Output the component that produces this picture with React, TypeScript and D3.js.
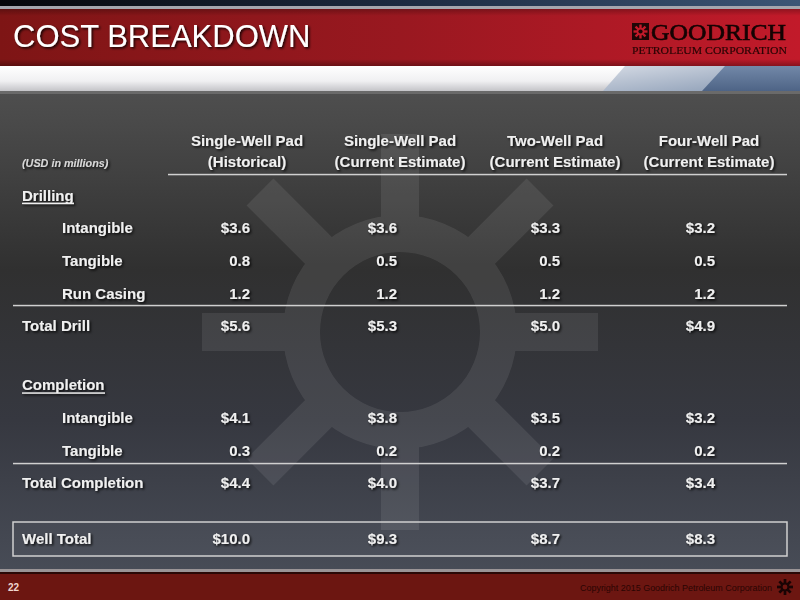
import React from "react";
import * as d3 from "d3";

// ---------- data ----------
const columnTitles = ["Single-Well Pad", "Single-Well Pad", "Two-Well Pad", "Four-Well Pad"];
const columnSubtitles = ["(Historical)", "(Current Estimate)", "(Current Estimate)", "(Current Estimate)"];
const unitNote = "(USD in millions)";

const drillingIntangible = [3.6, 3.6, 3.3, 3.2];
const drillingTangible = [0.8, 0.5, 0.5, 0.5];
const runCasing = [1.2, 1.2, 1.2, 1.2];
const totalDrill = [5.6, 5.3, 5.0, 4.9];
const completionIntangible = [4.1, 3.8, 3.5, 3.2];
const completionTangible = [0.3, 0.2, 0.2, 0.2];
const totalCompletion = [4.4, 4.0, 3.7, 3.4];
const wellTotal = [10.0, 9.3, 8.7, 8.3];

type Row = { label: string; slot: number; kind: "section" | "item" | "total"; values?: number[]; dollar?: boolean };
const rows: Row[] = [
  { label: "Drilling", slot: 0, kind: "section" },
  { label: "Intangible", slot: 1, kind: "item", values: drillingIntangible, dollar: true },
  { label: "Tangible", slot: 2, kind: "item", values: drillingTangible },
  { label: "Run Casing", slot: 3, kind: "item", values: runCasing },
  { label: "Total Drill", slot: 4, kind: "total", values: totalDrill, dollar: true },
  { label: "Completion", slot: 5.8, kind: "section" },
  { label: "Intangible", slot: 6.8, kind: "item", values: completionIntangible, dollar: true },
  { label: "Tangible", slot: 7.8, kind: "item", values: completionTangible },
  { label: "Total Completion", slot: 8.8, kind: "total", values: totalCompletion, dollar: true },
  { label: "Well Total", slot: 10.5, kind: "total", values: wellTotal, dollar: true },
];

const FONT = "'Liberation Sans', Arial, sans-serif";

export default function App() {
  const W = 800, H = 600;
  const colIdx = d3.range(columnTitles.length);
  const numRight = d3.scaleOrdinal<number, number>().domain(colIdx).range([250, 397, 560, 715]);
  const headCenter = d3.scaleOrdinal<number, number>().domain(colIdx).range([247, 400, 555, 709]);
  const y = d3.scaleLinear().domain([0, 1]).range([200.5, 233.2]); // baseline per slot
  const fmt = d3.format(".1f");

  // watermark sun
  const cx = 400, cy = 332, rIn = 80, rOut = 117, spokeLen = 198, spokeW = 38;
  const ringPath = d3.arc()({ innerRadius: rIn, outerRadius: rOut, startAngle: 0, endAngle: 2 * Math.PI }) as string;
  const spokeAngles = d3.range(8).map((i) => i * 45);

  const smallSun = (x: number, yy: number, s: number, color: string, hole: string) => (
    <g transform={`translate(${x},${yy})`}>
      {spokeAngles.map((a) => (
        <rect key={a} x={-s * 0.17} y={-s} width={s * 0.34} height={s * 0.6} fill={color} transform={`rotate(${a})`} />
      ))}
      <circle r={s * 0.55} fill={color} />
      <circle r={s * 0.3} fill={hole} />
    </g>
  );

  const underlineWidth = (label: string) => (label === "Drilling" ? 52 : 83);

  return (
    <div style={{ position: "fixed", left: 0, top: 0, width: W, height: H }}>
      <svg width={W} height={H} viewBox={`0 0 ${W} ${H}`} style={{ display: "block" }}>
        <defs>
          <linearGradient id="bg" x1="0" y1="0" x2="0" y2="1">
            <stop offset="0%" stopColor="#5c5c5c" />
            <stop offset="20%" stopColor="#4a4a4a" />
            <stop offset="45%" stopColor="#303030" />
            <stop offset="70%" stopColor="#363840" />
            <stop offset="100%" stopColor="#4b505b" />
          </linearGradient>
          <linearGradient id="navy" x1="0" y1="0" x2="1" y2="0">
            <stop offset="0%" stopColor="#05060a" />
            <stop offset="50%" stopColor="#1c2a40" />
            <stop offset="100%" stopColor="#3c5676" />
          </linearGradient>
          <linearGradient id="red" x1="0" y1="0" x2="1" y2="0">
            <stop offset="0%" stopColor="#7e1515" />
            <stop offset="50%" stopColor="#991820" />
            <stop offset="100%" stopColor="#c21a2a" />
          </linearGradient>
          <linearGradient id="redShade" x1="0" y1="0" x2="0" y2="1">
            <stop offset="0%" stopColor="#000" stopOpacity="0.25" />
            <stop offset="12%" stopColor="#000" stopOpacity="0" />
            <stop offset="88%" stopColor="#000" stopOpacity="0" />
            <stop offset="100%" stopColor="#000" stopOpacity="0.3" />
          </linearGradient>
          <linearGradient id="silver" x1="0" y1="0" x2="0" y2="1">
            <stop offset="0%" stopColor="#ffffff" />
            <stop offset="60%" stopColor="#f0f0f2" />
            <stop offset="100%" stopColor="#c4c4c8" />
          </linearGradient>
          <linearGradient id="blueLight" x1="0" y1="0" x2="1" y2="1">
            <stop offset="0%" stopColor="#d4dae4" />
            <stop offset="100%" stopColor="#8496b0" />
          </linearGradient>
          <linearGradient id="blueDark" x1="0" y1="0" x2="0" y2="1">
            <stop offset="0%" stopColor="#7288a8" />
            <stop offset="100%" stopColor="#4e6486" />
          </linearGradient>
          <filter id="shadow" filterUnits="userSpaceOnUse" x="0" y="0" width="800" height="600">
            <feDropShadow dx="1.5" dy="1.5" stdDeviation="0.8" floodColor="#000" floodOpacity="0.85" />
          </filter>
        </defs>

        {/* background */}
        <rect x={0} y={0} width={W} height={H} fill="url(#bg)" />

        {/* watermark sun */}
        <g opacity={0.085} fill="#ffffff">
          <path d={ringPath} transform={`translate(${cx},${cy})`} />
          {spokeAngles.map((a) => (
            <rect key={a} x={cx - spokeW / 2} y={cy - spokeLen} width={spokeW} height={spokeLen - rOut + 4}
              transform={`rotate(${a},${cx},${cy})`} />
          ))}
        </g>

        {/* header */}
        <rect x={0} y={0} width={W} height={7} fill="url(#navy)" />
        <rect x={0} y={6} width={W} height={3} fill="#a4a6ae" />
        <rect x={0} y={9} width={W} height={57} fill="url(#red)" />
        <rect x={0} y={9} width={W} height={57} fill="url(#redShade)" />
        <rect x={0} y={66} width={W} height={25} fill="url(#silver)" />
        <polygon points="625,66 800,66 800,91 603,91" fill="url(#blueLight)" />
        <polygon points="725,66 800,66 800,91 702,91" fill="url(#blueDark)" />
        <rect x={0} y={91} width={W} height={3} fill="#6a6a6a" />

        <text x={13} y={47} fontFamily={FONT} fontSize={31} fill="#ffffff" filter="url(#shadow)">COST BREAKDOWN</text>

        {/* logo */}
        <rect x={632} y={23} width={17} height={17} fill="#1e0606" />
        {smallSun(640.5, 31.5, 7, "#c21a2a", "#1e0606")}
        <text x={651} y={40} fontFamily="'Liberation Serif', 'DejaVu Serif', serif" fontSize={23} fill="#140303"
          stroke="#140303" strokeWidth={0.6} textLength={135} lengthAdjust="spacingAndGlyphs">GOODRICH</text>
        <text x={632} y={54} fontFamily="'Liberation Serif', 'DejaVu Serif', serif" fontSize={11} fill="#2a0505"
          stroke="#2a0505" strokeWidth={0.2} textLength={155} lengthAdjust="spacingAndGlyphs">PETROLEUM CORPORATION</text>

        {/* table header */}
        <text x={22} y={167} fontFamily={FONT} fontSize={10.8} fontStyle="italic" fontWeight="bold" fill="#d8d8d8"
          filter="url(#shadow)">{unitNote}</text>
        {colIdx.map((i) => (
          <g key={i} fontFamily={FONT} fontSize={15} fontWeight="bold" fill="#f0f0f0" textAnchor="middle" filter="url(#shadow)">
            <text x={headCenter(i)} y={146}>{columnTitles[i]}</text>
            <text x={headCenter(i)} y={167}>{columnSubtitles[i]}</text>
          </g>
        ))}
        <rect x={168} y={173.8} width={619} height={1.5} fill="#d0d0d0" />

        {/* separator lines */}
        <rect x={13} y={304.8} width={774} height={1.5} fill="#d0d0d0" />
        <rect x={13} y={462.8} width={774} height={1.5} fill="#d0d0d0" />

        {/* well total box */}
        <rect x={13} y={522} width={774} height={34} fill="#ffffff" fillOpacity={0.03} stroke="#d0d0d0" strokeWidth={1.5} />

        {/* rows */}
        {rows.map((r, ri) => {
          const by = y(r.slot);
          const lx = r.kind === "item" ? 62 : 22;
          return (
            <g key={ri} fontFamily={FONT} fontSize={15} fontWeight="bold" fill="#f0f0f0" filter="url(#shadow)">
              <text x={lx} y={by}>{r.label}</text>
              {r.kind === "section" && (
                <rect x={22} y={by + 2.2} width={underlineWidth(r.label)} height={1.4} fill="#f0f0f0" />
              )}
              {r.values &&
                r.values.map((v, ci) => (
                  <text key={ci} x={numRight(ci)} y={by} textAnchor="end">
                    {(r.dollar ? "$" : "") + fmt(v)}
                  </text>
                ))}
            </g>
          );
        })}

        {/* footer */}
        <rect x={0} y={569} width={W} height={3} fill="#9a9496" />
        <rect x={0} y={572} width={W} height={2} fill="#2a0806" />
        <rect x={0} y={574} width={W} height={26} fill="#6c1611" />
        <text x={8} y={591} fontFamily={FONT} fontSize={10} fontWeight="bold" fill="#f0d6d0">22</text>
        <text x={772} y={591} textAnchor="end" fontFamily={FONT} fontSize={9} fill="#2a0503" textLength={192} lengthAdjust="spacingAndGlyphs">
          Copyright 2015 Goodrich Petroleum Corporation
        </text>
        {smallSun(785, 587, 8, "#1a0404", "#6c1611")}
      </svg>
    </div>
  );
}
